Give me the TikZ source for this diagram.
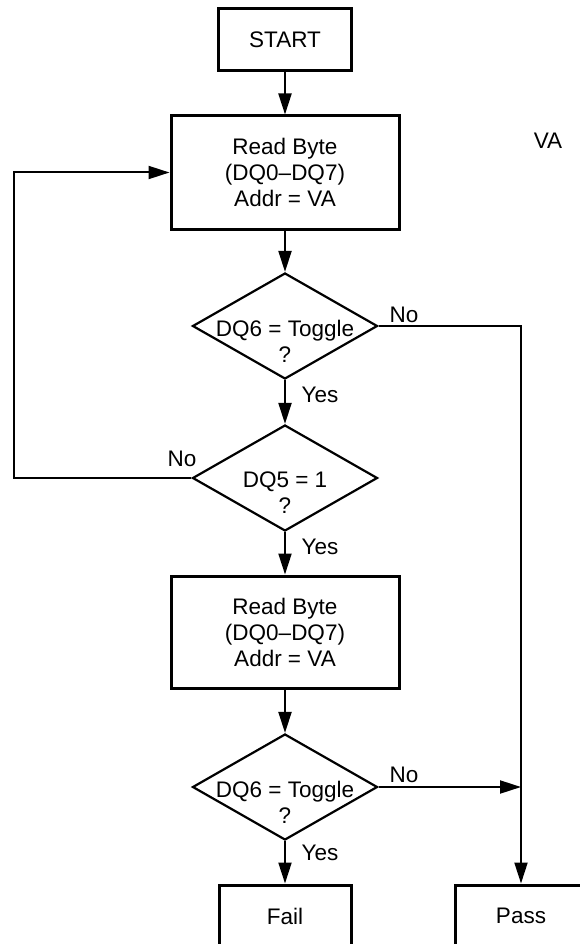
\documentclass[tikz,border=0pt]{standalone}
\usepackage{fontspec}
\setmainfont{Liberation Sans}
\usetikzlibrary{shapes.geometric,arrows.meta}
\begin{document}
\begin{tikzpicture}[x=1pt,y=1pt,
  every node/.style={font=\fontsize{22.5}{26}\selectfont},
  box/.style={draw,line width=3pt,inner sep=0pt,align=center},
  dia/.style={draw,diamond,line width=2.2pt,inner sep=0pt,minimum width=185pt,minimum height=106pt},
  lbl/.style={inner sep=0pt,anchor=base},
  arr/.style={line width=2pt,-{Triangle[length=21pt,width=13pt]}},
  ln/.style={line width=2pt}]
\useasboundingbox (0,0) rectangle (580,-944);
\clip (0,0) rectangle (580,-944);
% boxes
\node[box,minimum width=133pt,minimum height=62pt] (start) at (285,-40) {START};
\node[box,minimum width=228pt,minimum height=113pt] (rb1) at (285,-172.5) {Read Byte\\(DQ0–DQ7)\\Addr = VA};
\node[dia] (d1) at (285,-326) {};
\node[align=center,inner sep=0pt] (t1) at (285,-341) {DQ6 = Toggle\\?};
\node[dia] (d2) at (285,-478) {};
\node[align=center,inner sep=0pt] (t2) at (285,-493) {DQ5 = 1\\?};
\node[box,minimum width=228pt,minimum height=112pt] (rb2) at (285,-632) {Read Byte\\(DQ0–DQ7)\\Addr = VA};
\node[dia] (d3) at (285,-787) {};
\node[align=center,inner sep=0pt] (t3) at (285,-802) {DQ6 = Toggle\\?};
\node[box,minimum width=132pt,minimum height=62pt] (fail) at (285,-916) {Fail};
\node[box,minimum width=132pt,minimum height=62pt] (pass) at (521,-916) {Pass};
\node[inner sep=0pt] (va) at (548,-141) {VA};
% coordinates
\coordinate (loopL) at (14,-478);
\coordinate (passC) at (521,-326);
\coordinate (joinP) at (521,-787);
% connectors
\draw[arr] (start.south) -- (rb1.north);
\draw[arr] (rb1.south) -- (d1.north);
\draw[arr] (d1.south) -- (d2.north);
\draw[arr] (d2.south) -- (rb2.north);
\draw[arr] (rb2.south) -- (d3.north);
\draw[arr] (d3.south) -- (fail.north);
\draw[arr] (d1.east) -- (passC) -- (pass.north);
\draw[arr] (d3.east) -- (joinP);
\draw[arr] (d2.west) -- (loopL) |- (rb1.west);
% labels
\node[lbl] (no1) at (404,-322) {No};
\node[lbl] (yes1) at (320,-402) {Yes};
\node[lbl] (no2) at (182,-466) {No};
\node[lbl] (yes2) at (320,-554) {Yes};
\node[lbl] (no3) at (404,-782) {No};
\node[lbl] (yes3) at (320,-860) {Yes};
\end{tikzpicture}
\end{document}
